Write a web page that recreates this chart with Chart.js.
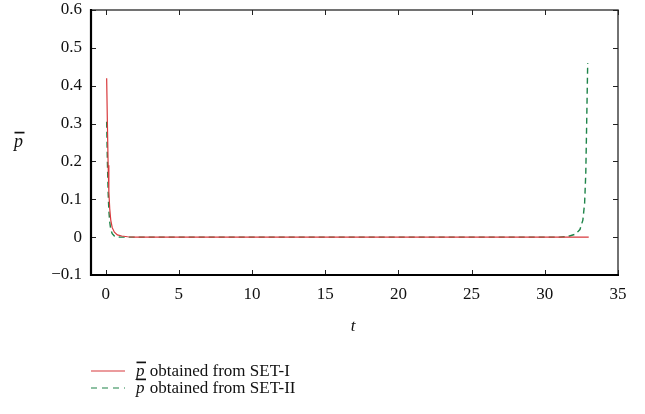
<!DOCTYPE html>
<html>
<head>
<meta charset="utf-8">
<script src="https://cdn.jsdelivr.net/npm/chart.js"></script>
<style>
  html, body { margin: 0; padding: 0; background: #fff; }
  #wrap { width: 645px; height: 414px; position: relative; }
</style>
</head>
<body>
<div id="wrap"><canvas id="c" width="645" height="414"></canvas></div>
<script>
// values
const tSet1 = [0.07, 0.12, 0.17, 0.22, 0.28, 0.35, 0.45, 0.6, 0.8, 1.1, 1.5, 2.0, 33.0];
const pSet1 = [0.42, 0.3, 0.19, 0.12, 0.075, 0.045, 0.025, 0.013, 0.006, 0.003, 0.001, 0, 0];

const tSet2 = [0.07, 0.12, 0.17, 0.22, 0.28, 0.35, 0.45, 0.6, 0.8, 1.0, 31.0, 31.6, 32.1, 32.4, 32.6, 32.72, 32.8, 32.86, 32.93];
const pSet2 = [0.305, 0.2, 0.12, 0.07, 0.04, 0.02, 0.009, 0.003, 0.001, 0, 0, 0.002, 0.008, 0.02, 0.045, 0.09, 0.17, 0.3, 0.46];

const xTicks = [0, 5, 10, 15, 20, 25, 30, 35];
const yTicks = [-0.1, 0, 0.1, 0.2, 0.3, 0.4, 0.5, 0.6];
const yTickLabels = ['\u22120.1', '0', '0.1', '0.2', '0.3', '0.4', '0.5', '0.6'];

const seriesNames = ['obtained from SET-I', 'obtained from SET-II'];
const RED = '#d8393c';
const GREEN = '#1e8449';
const FONT = '"Liberation Serif", "DejaVu Serif", serif';

function pts(xs, ys) {
    return xs.map((x, i) => ({ x: x, y: ys[i] }));
}

// italic p with a bar on top, returns its width
function drawPBar(ctx, x, y, size) {
    ctx.save();
    ctx.font = 'italic ' + size + 'px ' + FONT;
    ctx.textAlign = 'left';
    ctx.textBaseline = 'alphabetic';
    ctx.fillStyle = '#111';
    const w = ctx.measureText('p').width;
    ctx.fillText('p', x, y);
    ctx.strokeStyle = '#111';
    ctx.lineWidth = 1.7;
    ctx.beginPath();
    ctx.moveTo(x + 0.5, y - size * 0.8);
    ctx.lineTo(x + w + 1.5, y - size * 0.8);
    ctx.stroke();
    ctx.restore();
    return w;
}

const framePlugin = {
    id: 'frame',
    afterDraw(chart) {
        const ctx = chart.ctx;
        const a = chart.chartArea;
        const xs = chart.scales.x, ys = chart.scales.y;
        ctx.save();
        // top and right, thin grey
        ctx.strokeStyle = '#444';
        ctx.lineWidth = 1.5;
        ctx.beginPath();
        ctx.moveTo(a.left, a.top);
        ctx.lineTo(a.right, a.top);
        ctx.lineTo(a.right, a.bottom);
        ctx.stroke();
        // inward ticks
        ctx.lineWidth = 1;
        ctx.strokeStyle = '#222';
        ctx.beginPath();
        xTicks.forEach(v => {
            const px = Math.round(xs.getPixelForValue(v)) + 0.5;
            ctx.moveTo(px, a.bottom); ctx.lineTo(px, a.bottom - 5);
            ctx.moveTo(px, a.top); ctx.lineTo(px, a.top + 5);
        });
        yTicks.forEach(v => {
            const py = Math.round(ys.getPixelForValue(v)) + 0.5;
            ctx.moveTo(a.left, py); ctx.lineTo(a.left + 5, py);
            ctx.moveTo(a.right, py); ctx.lineTo(a.right - 5, py);
        });
        ctx.stroke();
        // left and bottom, thick black
        ctx.strokeStyle = '#000';
        ctx.lineWidth = 2.2;
        ctx.beginPath();
        ctx.moveTo(a.left, a.top - 1);
        ctx.lineTo(a.left, a.bottom);
        ctx.lineTo(a.right + 1, a.bottom);
        ctx.stroke();

        // axis titles
        ctx.fillStyle = '#111';
        ctx.font = 'italic 17px ' + FONT;
        ctx.textAlign = 'center';
        ctx.textBaseline = 'alphabetic';
        ctx.fillText('t', 353, 331);
        drawPBar(ctx, 14, 147, 18);

        // legend
        const rows = [
            { y: 371, color: RED, dash: [] },
            { y: 388, color: GREEN, dash: [6, 5] }
        ];
        rows.forEach((r, i) => {
            ctx.strokeStyle = r.color;
            ctx.lineWidth = 1.2;
            ctx.setLineDash(r.dash);
            ctx.beginPath();
            ctx.moveTo(91, r.y);
            ctx.lineTo(125, r.y);
            ctx.stroke();
            ctx.setLineDash([]);
            const w = drawPBar(ctx, 136, r.y + 5, 17);
            ctx.font = '17px ' + FONT;
            ctx.textAlign = 'left';
            ctx.fillStyle = '#111';
            ctx.fillText(' ' + seriesNames[i], 136 + w + 1, r.y + 5);
        });
        ctx.restore();
    }
};

new Chart(document.getElementById('c'), {
    type: 'line',
    data: {
        datasets: [
            {
                label: seriesNames[0],
                data: pts(tSet1, pSet1),
                borderColor: RED,
                borderWidth: 1.2,
                pointRadius: 0,
                tension: 0,
                fill: false
            },
            {
                label: seriesNames[1],
                data: pts(tSet2, pSet2),
                borderColor: GREEN,
                borderWidth: 1.4,
                borderDash: [6, 4],
                pointRadius: 0,
                tension: 0,
                fill: false
            }
        ]
    },
    options: {
        responsive: false,
        animation: false,
        layout: { padding: { left: 0, top: 10, right: 27, bottom: 0 } },
        plugins: { legend: { display: false }, tooltip: { enabled: false } },
        scales: {
            x: {
                type: 'linear',
                min: -1,
                max: 35,
                afterBuildTicks: axis => { axis.ticks = xTicks.map(v => ({ value: v })); },
                afterFit: axis => { axis.height = 139; axis.paddingLeft = 0; axis.paddingRight = 0; },
                grid: { display: false, drawTicks: false },
                border: { display: false },
                ticks: {
                    color: '#111',
                    padding: 9,
                    maxRotation: 0,
                    font: { family: FONT, size: 17 }
                }
            },
            y: {
                type: 'linear',
                min: -0.1,
                max: 0.6,
                afterBuildTicks: axis => { axis.ticks = yTicks.map(v => ({ value: v })); },
                afterFit: axis => { axis.width = 91; axis.paddingTop = 0; axis.paddingBottom = 0; },
                grid: { display: false, drawTicks: false },
                border: { display: false },
                ticks: {
                    color: '#111',
                    padding: 9,
                    font: { family: FONT, size: 17 },
                    callback: (v, i) => yTickLabels[i]
                }
            }
        }
    },
    plugins: [framePlugin]
});
</script>
</body>
</html>
